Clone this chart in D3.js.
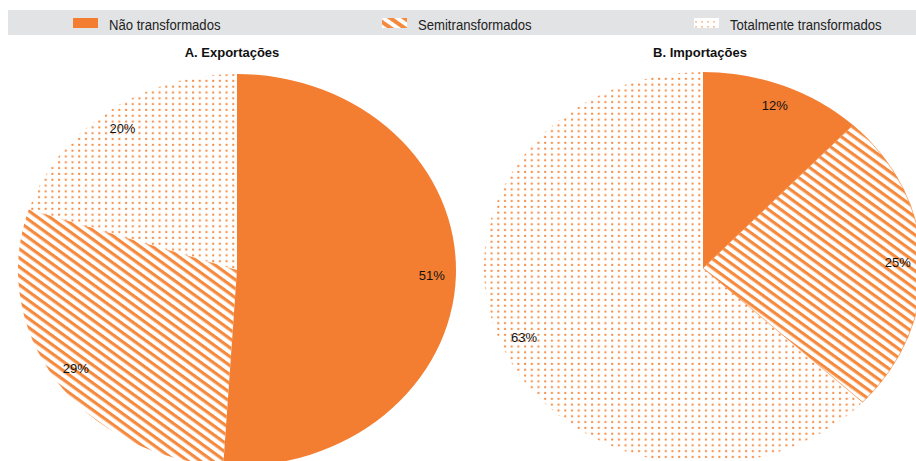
<!DOCTYPE html>
<html>
<head>
<meta charset="utf-8">
<script src="https://cdn.jsdelivr.net/npm/d3@7"></script>
<style>
  html, body { margin: 0; padding: 0; background: #fff; }
  svg { display: block; }
</style>
</head>
<body>
<svg id="chart" width="916" height="461"></svg>
<script>
// Composition of exports and imports by degree of processing (%)
const categories = ["Não transformados", "Semitransformados", "Totalmente transformados"];
const exportValues = [51, 29, 20];
const importValues = [12, 25, 63];
const panelTitles = ["A. Exportações", "B. Importações"];

const ORANGE = "#f37e31";
const STRIPE = "#f5893d";
const DOT = "#f48a42";

const svg = d3.select("#chart");
const W = 916, H = 461;

// ---- fill patterns -------------------------------------------------------
const defs = svg.append("defs");

// diagonal stripes for the semi-processed slice
const hatch = defs.append("pattern")
  .attr("id", "hatch")
  .attr("patternUnits", "userSpaceOnUse")
  .attr("width", 20).attr("height", 7.8)
  .attr("patternTransform", "rotate(39)");
hatch.append("rect").attr("x", 0).attr("y", 0).attr("width", 20).attr("height", 3.4)
  .attr("fill", STRIPE);

// fine dot screen for the fully processed slice
const dots = defs.append("pattern")
  .attr("id", "dots")
  .attr("patternUnits", "userSpaceOnUse")
  .attr("width", 6.7).attr("height", 6.5);
dots.append("rect").attr("x", 2).attr("y", 2).attr("width", 2).attr("height", 2.2)
  .attr("fill", DOT);

// legend swatch patterns (coarser)
const hatchLg = defs.append("pattern")
  .attr("id", "hatchLegend")
  .attr("patternUnits", "userSpaceOnUse")
  .attr("width", 20).attr("height", 8)
  .attr("patternTransform", "rotate(35)");
hatchLg.append("rect").attr("width", 20).attr("height", 4).attr("fill", STRIPE);

const dotsLg = defs.append("pattern")
  .attr("id", "dotsLegend")
  .attr("patternUnits", "userSpaceOnUse")
  .attr("width", 6).attr("height", 5);
dotsLg.append("rect").attr("x", 1).attr("y", 1).attr("width", 2).attr("height", 1.6)
  .attr("fill", "#f8c29b");

const fills = d3.scaleOrdinal()
  .domain(categories)
  .range([ORANGE, "url(#hatch)", "url(#dots)"]);
const legendFills = d3.scaleOrdinal()
  .domain(categories)
  .range([ORANGE, "url(#hatchLegend)", "url(#dotsLegend)"]);

// ---- legend bar ----------------------------------------------------------
const legend = svg.append("g");
legend.append("rect")
  .attr("x", 8).attr("y", 10).attr("width", W - 8).attr("height", 25)
  .attr("fill", "#e2e3e5");

const legendX = d3.scaleOrdinal().domain(categories).range([73, 382, 694]);
const items = legend.selectAll("g.item").data(categories).join("g")
  .attr("class", "item")
  .attr("transform", d => `translate(${legendX(d)},0)`);
items.filter((d, i) => i > 0).append("rect")
  .attr("x", 0).attr("y", 18).attr("width", 25).attr("height", 10)
  .attr("fill", "#fff");
items.append("rect")
  .attr("x", 0).attr("y", 18).attr("width", 25).attr("height", 10)
  .attr("fill", d => legendFills(d));
// condensed legend lettering
items.append("text")
  .attr("transform", "translate(36,30) scale(0.875,1)")
  .attr("font-family", "'Liberation Sans', Arial, sans-serif")
  .attr("font-size", 15)
  .attr("fill", "#222")
  .text(d => d);

// ---- pies ----------------------------------------------------------------
const rx = 219;
const ky = 0.895;           // vertical squash of the ellipse
const panels = [
  { title: panelTitles[0], values: exportValues, cx: 237, cy: 270, titleX: 232 },
  { title: panelTitles[1], values: importValues, cx: 703, cy: 268, titleX: 700 }
];

const pie = d3.pie().sort(null).value(d => d.value);
const arc = d3.arc().innerRadius(0).outerRadius(rx);
const labelArc = d3.arc().innerRadius(rx * 0.89).outerRadius(rx * 0.89);

panels.forEach((p, pi) => {
  const data = categories.map((c, i) => ({ category: c, value: p.values[i] }));
  const arcs = pie(data);

  svg.append("text")
    .attr("x", p.titleX).attr("y", 57)
    .attr("text-anchor", "middle")
    .attr("font-family", "'Liberation Sans', Arial, sans-serif")
    .attr("font-weight", "bold")
    .attr("font-size", 13)
    .attr("fill", "#111")
    .text(p.title);

  const g = svg.append("g")
    .attr("transform", `translate(${p.cx},${p.cy}) scale(1,${ky})`);

  g.selectAll("path").data(arcs).join("path")
    .attr("d", arc)
    .attr("fill", d => fills(d.data.category))
    .attr("stroke", d => (pi === 1 && d.index === 1) ? STRIPE : "none")
    .attr("stroke-width", 0.7);

  svg.append("g").selectAll("text").data(arcs).join("text")
    .attr("x", d => p.cx + labelArc.centroid(d)[0])
    .attr("y", d => p.cy + labelArc.centroid(d)[1] * ky)
    .attr("dy", "0.35em")
    .attr("text-anchor", "middle")
    .attr("font-family", "'Liberation Sans', Arial, sans-serif")
    .attr("font-size", 13)
    .attr("fill", "#111")
    .text(d => d.data.value + "%");
});
</script>
</body>
</html>
